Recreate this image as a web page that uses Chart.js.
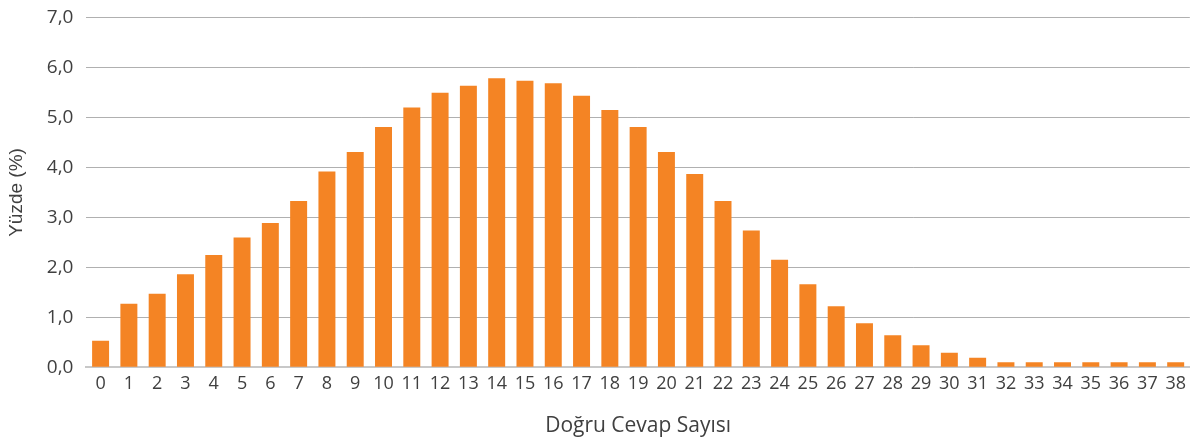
<!DOCTYPE html>
<html>
<head>
<meta charset="utf-8">
<script src="https://cdn.jsdelivr.net/npm/chart.js@4/dist/chart.umd.min.js"></script>
<style>
html,body{margin:0;padding:0;background:#fff;}
#wrap{width:1192px;height:441px;position:relative;}
</style>
</head>
<body>
<div id="wrap"><canvas id="c"></canvas></div>
<script>
const categories = ["0","1","2","3","4","5","6","7","8","9","10","11","12","13","14","15","16","17","18","19","20","21","22","23","24","25","26","27","28","29","30","31","32","33","34","35","36","37","38"];
const percentages = [0.53,1.27,1.47,1.86,2.25,2.60,2.89,3.33,3.92,4.31,4.81,5.20,5.50,5.64,5.79,5.74,5.69,5.44,5.15,4.81,4.31,3.87,3.33,2.74,2.15,1.66,1.22,0.88,0.64,0.44,0.29,0.19,0.10,0.10,0.10,0.10,0.10,0.10,0.10];
const yAxisTitle = "Yüzde (%)";
const xAxisTitle = "Doğru Cevap Sayısı";

const FONT = "'Open Sans', sans-serif";
new Chart(document.getElementById('c'), {
  type: 'bar',
  data: {
    labels: categories,
    datasets: [{
      data: percentages,
      backgroundColor: '#F48424',
      borderWidth: 0,
      barPercentage: 0.6,
      categoryPercentage: 1.0
    }]
  },
  options: {
    responsive: true,
    maintainAspectRatio: false,
    animation: false,
    layout: { padding: { top: 16, right: 2, left: 5, bottom: 2 } },
    plugins: { legend: { display: false }, tooltip: { enabled: false } },
    scales: {
      x: {
        grid: { display: false, drawTicks: false },
        border: { display: true, color: '#c8c8c8', width: 2 },
        ticks: { color: '#404040', font: { family: FONT, size: 18 }, padding: 6, maxRotation: 0, autoSkip: false },
        title: { display: true, text: xAxisTitle, color: '#404040', font: { family: FONT, size: 21 }, padding: { top: 13, bottom: 0 } }
      },
      y: {
        min: 0, max: 7,
        ticks: { stepSize: 1, color: '#404040', font: { family: FONT, size: 19, lineHeight: 0.5 }, padding: 13,
          callback: v => v.toFixed(1).replace('.', ',') },
        grid: { color: '#b0b0b0', lineWidth: 1, drawTicks: false },
        border: { display: false },
        title: { display: true, text: yAxisTitle, color: '#404040', font: { family: "'Liberation Sans', Arial, sans-serif", size: 19 }, padding: { top: 0, bottom: 6 } }
      }
    }
  }
});
</script>
</body>
</html>
